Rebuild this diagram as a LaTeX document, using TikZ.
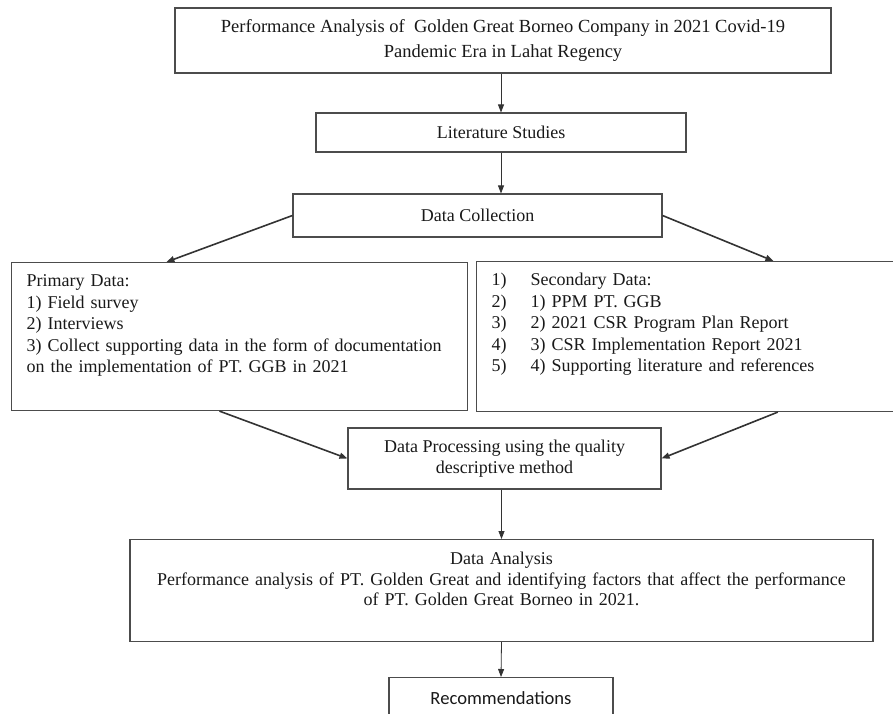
\documentclass[tikz,border=0pt]{standalone}
\usepackage{fontspec}
\setmainfont{Liberation Serif}
\newfontfamily\recfont{Carlito}
\usetikzlibrary{arrows.meta, positioning, calc}

\begin{document}
\begin{tikzpicture}[
    x=1pt, y=-1pt,
    box/.style={rectangle, draw=black!70, line width=1.1pt, text=black!90, font=\fontsize{18}{21.5}\selectfont, align=center},
    listbox/.style={box, anchor=north west, align=left, inner xsep=15pt, inner ysep=0pt, text height=24pt},
    arrow/.style={-{Triangle[length=8pt,width=6pt]}, line width=0.8pt, draw=black!80},
    slant/.style={arrow, line width=1.6pt}
]
    \useasboundingbox (0,0) rectangle (893,713);
    \clip (0,0) rectangle (893,713);

    \node[box, minimum width=656pt, minimum height=65pt, font=\fontsize{18.5}{25}\selectfont] (title) at (503,40.5) {Performance Analysis of \ Golden Great Borneo Company in 2021 Covid-19\\ Pandemic Era in Lahat Regency};
    \node[box, minimum width=370pt, minimum height=39pt] (litstudy) at (501,132.5) {Literature Studies};
    \node[box, minimum width=369pt, minimum height=43pt] (collect) at (477.5,215.5) {Data Collection};
    \node[listbox, text width=426pt, text depth=124pt] (primary) at (11,262) {Primary Data:\\ 1) Field survey\\ 2) Interviews\\ 3) Collect supporting data in the form of documentation\\ on the implementation of PT. GGB in 2021};
    \node[listbox, text width=400pt, text depth=126pt] (secondary) at (476,261) {\makebox[39pt][l]{1)}Secondary Data:\\ \makebox[39pt][l]{2)}1) PPM PT. GGB\\ \makebox[39pt][l]{3)}2) 2021 CSR Program Plan Report\\ \makebox[39pt][l]{4)}3) CSR Implementation Report 2021\\ \makebox[39pt][l]{5)}4) Supporting literature and references};
    \node[box, minimum width=313pt, minimum height=61pt] (process) at (504.5,458.5) {Data Processing using the quality\\ descriptive method};
    \node[box, anchor=north, text width=743pt, inner xsep=0pt, inner ysep=0pt, text height=25pt, text depth=77pt, font=\fontsize{18}{20.5}\selectfont] (analysis) at (501.5,539) {Data Analysis\\ Performance analysis of PT. Golden Great and identifying factors that affect the performance\\ of PT. Golden Great Borneo in 2021.};
    \node[box, anchor=north, minimum width=224pt, minimum height=42pt, font=\recfont\fontsize{18.6}{20}\selectfont] (recommend) at (501,677) {Recommendations};

    \draw[arrow] (litstudy.north |- title.south) -- (litstudy.north);
    \draw[arrow] (litstudy.south) -- (litstudy.south |- collect.north);
    \draw[slant] (collect.west) -- ($(primary.north west)!0.34!(primary.north east)$);
    \draw[slant] (collect.east) -- ($(secondary.north west)!0.69!(secondary.north east)$);
    \draw[slant] ($(primary.south west)!0.456!(primary.south east)$) -- (process.west);
    \draw[slant] ($(secondary.south west)!0.70!(secondary.south east)$) -- (process.east);
    \draw[arrow] (analysis.north |- process.south) -- (analysis.north);
    \draw[arrow] (analysis.south) -- (recommend.north);
\end{tikzpicture}
\end{document}
